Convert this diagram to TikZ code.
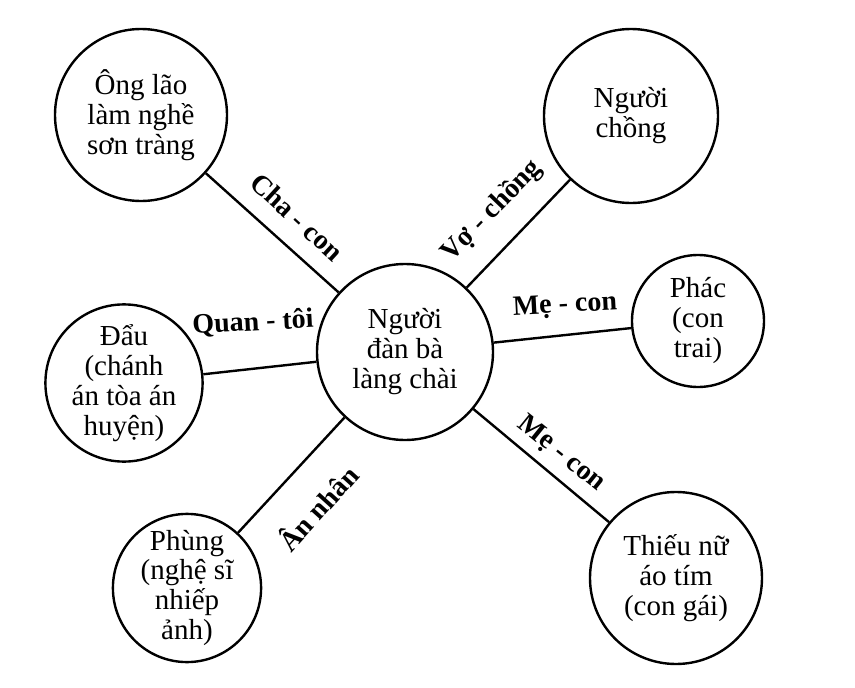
\documentclass[tikz,border=0pt]{standalone}
\usepackage{fontspec}
\setmainfont{Liberation Serif}
\begin{document}
\begin{tikzpicture}[x=1pt,y=-1pt,
  circ/.style={draw,circle,line width=2.4pt,inner sep=0pt,align=center,font=\fontsize{29}{30}\selectfont},
  lbl/.style={font=\fontsize{28}{30}\selectfont\bfseries,inner sep=0pt},
  conn/.style={line width=2.4pt}]
\useasboundingbox (0,0) rectangle (855,688);
\node[circ,minimum size=176pt] (c) at (405,352) {Người\\đàn bà\\làng chài};
\node[circ,minimum size=172pt] (a) at (141,115) {Ông lão\\làm nghề\\sơn tràng};
\node[circ,minimum size=174pt] (b) at (631,116) {Người\\chồng};
\node[circ,minimum size=132pt] (p) at (698,321) {Phác\\(con\\trai)};
\node[circ,minimum size=172pt] (t) at (676,578) {Thiếu nữ\\áo tím\\(con gái)};
\node[circ,minimum size=154pt] (d) at (124,383) {Đẩu\\(chánh\\án tòa án\\huyện)};
\node[circ,minimum size=144pt] (f) at (187,588) {Phùng\\(nghệ sĩ\\nhiếp\\ảnh)};
\draw[conn] (c) -- (a);
\draw[conn] (c) -- (b);
\draw[conn] (c) -- (p);
\draw[conn] (c) -- (t);
\draw[conn] (c) -- (d);
\draw[conn] (c) -- (f);
\node[lbl,rotate=-42.5] (la) at (297,217) {Cha - con};
\node[lbl,rotate=46] (lb) at (492,211) {Vợ - chồng};
\node[lbl,rotate=3] (lp) at (565,306) {Mẹ - con};
\node[lbl,rotate=-39] (lt) at (561,454) {Mẹ - con};
\node[lbl,rotate=3] (ld) at (253,323) {Quan - tôi};
\node[lbl,rotate=48] (lf) at (317,507) {Ân nhân};
\end{tikzpicture}
\end{document}
